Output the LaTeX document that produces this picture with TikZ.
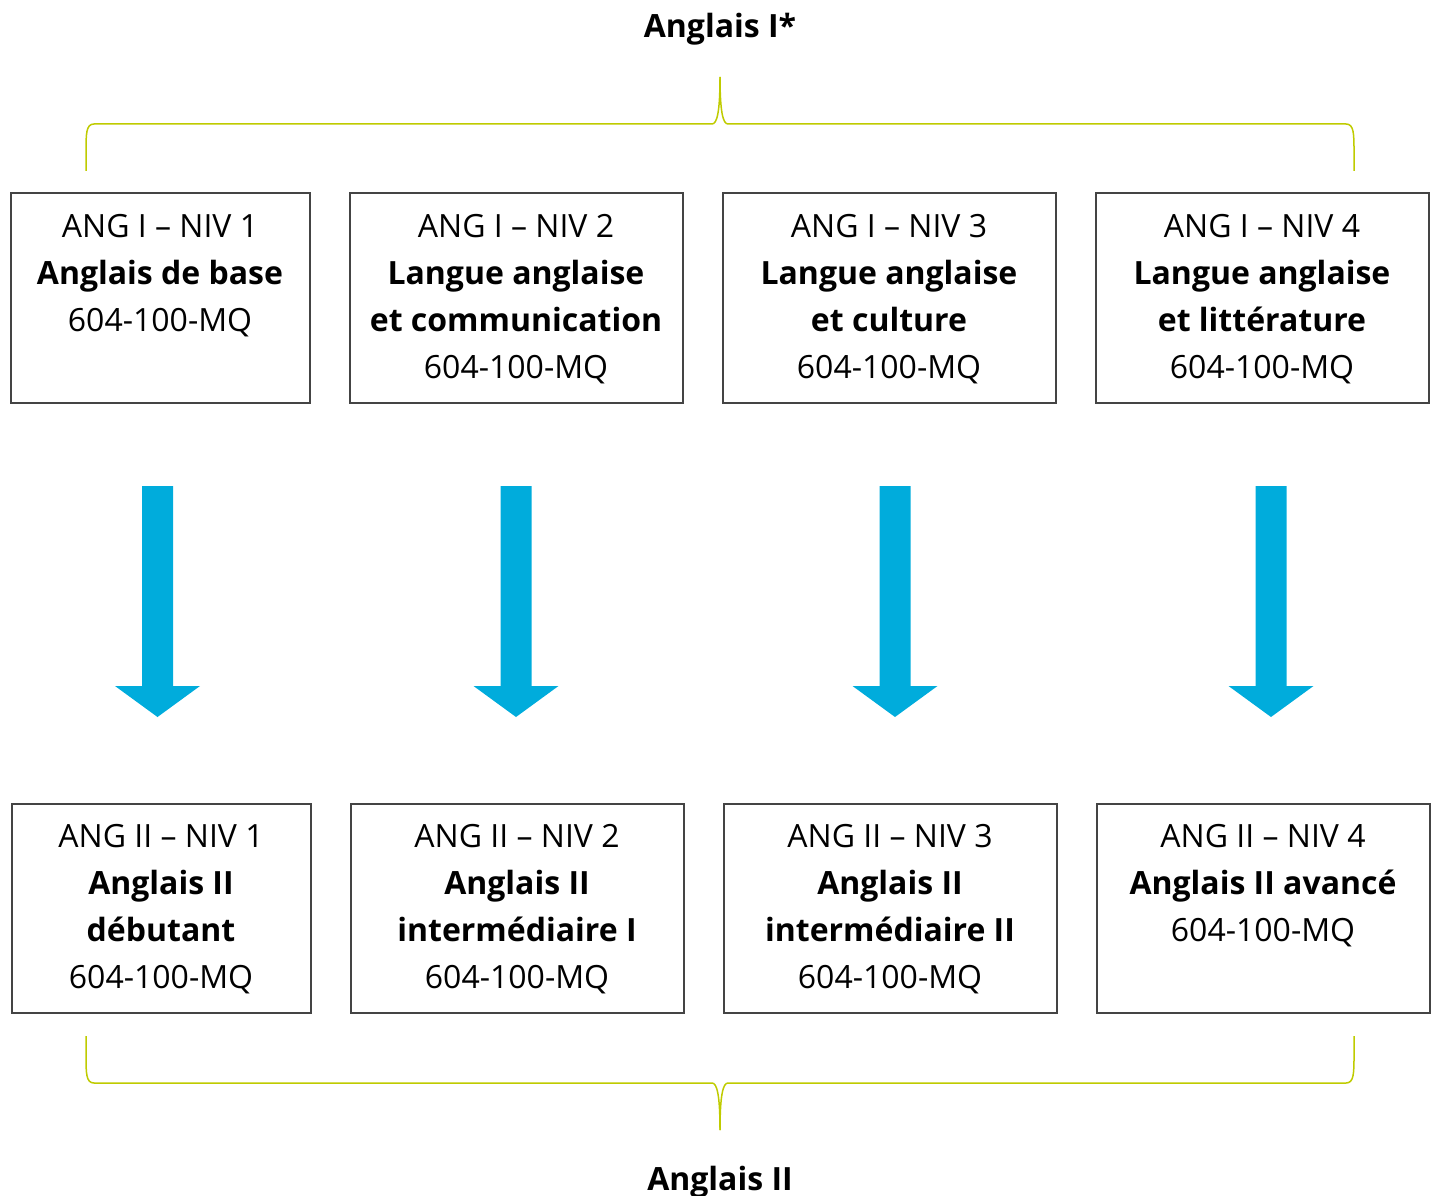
\documentclass[tikz,border=0pt]{standalone}
\usepackage{fontspec}
\setmainfont{Open Sans}
\definecolor{bracecol}{HTML}{BFCB00}
\definecolor{arrowcol}{HTML}{00ACDC}
\definecolor{boxcol}{HTML}{444444}
\begin{document}
\begin{tikzpicture}[x=1pt,y=-1pt,
  coursebox/.style={draw=boxcol, line width=2pt, minimum width=#1, minimum height=209, inner sep=0, anchor=north west},
  boxtxt/.style={align=center, font=\fontsize{32}{47}\selectfont, inner sep=0, anchor=north},
  titletxt/.style={font=\fontsize{32}{47}\selectfont\bfseries, inner sep=0, anchor=base},
  bracepath/.style={draw=bracecol, line width=1.5pt},
  bigarrow/.style={fill=arrowcol, draw=none}
]
\useasboundingbox (0,0) rectangle (1433,1196);

% titles
\node[titletxt] (ttop) at (720,37.5) {Anglais I*};
\node[titletxt] (tbot) at (720,1190) {Anglais II};

% top brace
\path[bracepath] (86,171) -- (86,152) .. controls (86,134) and (86,124) .. (94,124) -- (712,124) .. controls (717,124) and (720,112) .. (720,77);
\path[bracepath] (1354,171) -- (1354,152) .. controls (1354,134) and (1354,124) .. (1346,124) -- (728,124) .. controls (723,124) and (720,112) .. (720,77);

% bottom brace
\path[bracepath] (86,1036) -- (86,1055) .. controls (86,1073) and (86,1083) .. (94,1083) -- (712,1083) .. controls (717,1083) and (720,1095) .. (720,1130);
\path[bracepath] (1354,1036) -- (1354,1055) .. controls (1354,1073) and (1354,1083) .. (1346,1083) -- (728,1083) .. controls (723,1083) and (720,1095) .. (720,1130);

% top boxes
\node[coursebox=299] (a1) at (9.5,192.5) {};
\node[coursebox=333] (a2) at (348.5,192.5) {};
\node[coursebox=333] (a3) at (721.5,192.5) {};
\node[coursebox=333] (a4) at (1094.5,192.5) {};
\node[boxtxt] (ta1) at ([yshift=-21.5]a1.north) {ANG I – NIV 1\\\textbf{Anglais de base}\\604-100-MQ};
\node[boxtxt] (ta2) at ([yshift=-21.5]a2.north) {ANG I – NIV 2\\\textbf{Langue anglaise}\\\textbf{et communication}\\604-100-MQ};
\node[boxtxt] (ta3) at ([yshift=-21.5]a3.north) {ANG I – NIV 3\\\textbf{Langue anglaise}\\\textbf{et culture}\\604-100-MQ};
\node[boxtxt] (ta4) at ([yshift=-21.5]a4.north) {ANG I – NIV 4\\\textbf{Langue anglaise}\\\textbf{et littérature}\\604-100-MQ};

% bottom boxes
\node[coursebox=299] (b1) at (10.5,802.5) {};
\node[coursebox=333] (b2) at (349.5,802.5) {};
\node[coursebox=333] (b3) at (722.5,802.5) {};
\node[coursebox=333] (b4) at (1095.5,802.5) {};
\node[boxtxt] (tb1) at ([yshift=-21.5]b1.north) {ANG II – NIV 1\\\textbf{Anglais II}\\\textbf{débutant}\\604-100-MQ};
\node[boxtxt] (tb2) at ([yshift=-21.5]b2.north) {ANG II – NIV 2\\\textbf{Anglais II}\\\textbf{intermédiaire I}\\604-100-MQ};
\node[boxtxt] (tb3) at ([yshift=-21.5]b3.north) {ANG II – NIV 3\\\textbf{Anglais II}\\\textbf{intermédiaire II}\\604-100-MQ};
\node[boxtxt] (tb4) at ([yshift=-21.5]b4.north) {ANG II – NIV 4\\\textbf{Anglais II avancé}\\604-100-MQ};

% arrows
\foreach \cx in {157.5,516,895,1271} {
  \path[bigarrow] (\cx-15.5,486) -- (\cx+15.5,486) -- (\cx+15.5,686) -- (\cx+42.5,686) -- (\cx,717) -- (\cx-42.5,686) -- (\cx-15.5,686) -- cycle;
}
\end{tikzpicture}
\end{document}
